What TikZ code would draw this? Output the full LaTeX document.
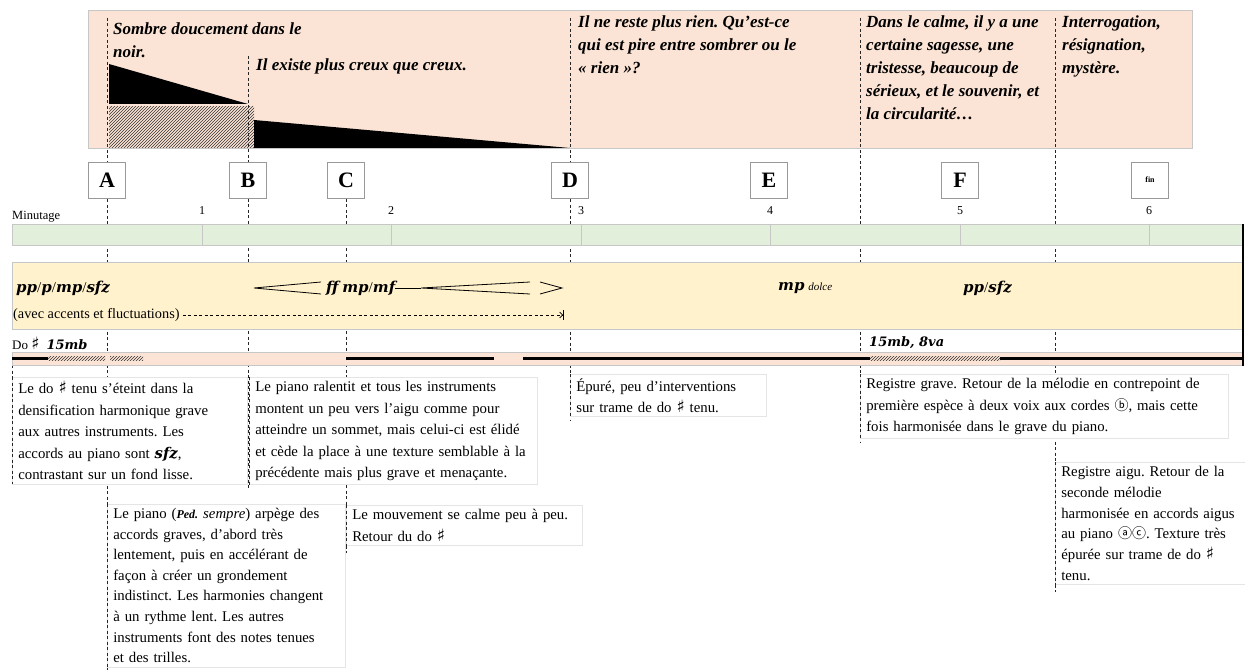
\documentclass[tikz,border=0pt]{standalone}
\usepackage{fontspec}
\setmainfont{Liberation Serif}
\newfontfamily\dynfont{DejaVu Serif}
\newfontfamily\symfont{DejaVu Sans}
\newfontfamily\circfont{Noto Sans CJK SC}
\usetikzlibrary{patterns,arrows.meta}

\definecolor{peach}{HTML}{FBE4D5}
\definecolor{mint}{HTML}{E2EFDA}
\definecolor{cream}{HTML}{FFF2CC}

\newcommand{\dyn}[1]{{\dynfont\bfseries\itshape #1}}
\newcommand{\diese}{{\symfont\fontsize{17}{14}\selectfont ♯}}
\newcommand{\circled}[1]{{\circfont\fontsize{14}{14}\selectfont #1}}

\tikzset{
  band/.style={draw=black!22, line width=0.8pt},
  vline/.style={line width=0.7pt, black!85, dash pattern=on 3pt off 2.5pt},
  mood/.style={anchor=north west, inner sep=0pt, align=left,
    font=\bfseries\itshape\fontsize{17}{23}\selectfont},
  letterbox/.style={draw=black!40, fill=white, line width=0.6pt,
    minimum width=37pt, minimum height=36pt, inner sep=0pt,
    font=\bfseries\fontsize{22}{22}\selectfont},
  note/.style={anchor=north west, fill=white, draw=black!10, line width=0.6pt,
    inner xsep=6pt, inner ysep=4pt, align=left,
    font=\fontsize{14.8}{21.5}\selectfont},
  tick/.style={font=\fontsize{12}{12}\selectfont},
  hatchbar/.style={pattern=north east lines, pattern color=black!80},
  hairpin/.style={line width=0.8pt},
}

\begin{document}
\frenchspacing
\begin{tikzpicture}[x=1pt,y=-1pt]
\useasboundingbox (0,0) rectangle (1245,671);

% ---- upper band: moods
\fill[peach] (88,10) rectangle (1192,148);
\draw[band] (88,10) rectangle (1192,148);
\fill (109,64) -- (248,104) -- (109,104) -- cycle;
\fill[hatchbar] (109,107) rectangle (254,148);
\fill (254,120) -- (570,148) -- (254,148) -- cycle;

\node[mood] (m1) at (113,23) {Sombre doucement dans le\\noir.};
\node[mood] (m2) at (256,59) {Il existe plus creux que creux.};
\node[mood] (m3) at (578,16) {Il ne reste plus rien. Qu’est-ce\\qui est pire entre sombrer ou le\\« rien »?};
\node[mood] (m4) at (866,16) {Dans le calme, il y a une\\certaine sagesse, une\\tristesse, beaucoup de\\sérieux, et le souvenir, et\\la circularité…};
\node[mood] (m5) at (1062,16) {Interrogation,\\résignation,\\mystère.};

% ---- section markers (dashed)
\draw[vline] (107,18) -- (107,671);
\draw[vline] (248,56) -- (248,490);
\draw[vline] (346,199) -- (346,553);
\draw[vline] (570,18) -- (570,421);
\draw[vline] (860,18) -- (860,443);
\draw[vline] (1055,18) -- (1055,592);
\draw[vline] (12,365) -- (12,380);

% ---- letters
\node[letterbox] (A) at (107,180) {A};
\node[letterbox] (B) at (248,180) {B};
\node[letterbox] (C) at (346,180) {C};
\node[letterbox] (D) at (570,180) {D};
\node[letterbox] (E) at (769,180) {E};
\node[letterbox] (F) at (960,180) {F};
\node[letterbox, font=\bfseries\fontsize{8}{8}\selectfont] (fin) at (1150,180) {fin};

% ---- timeline
\node[tick, anchor=south west, inner sep=0pt, font=\fontsize{12.5}{12.5}\selectfont] (minutage) at (12,222) {Minutage};
\fill[mint] (12,224) rectangle (1243,245);
\draw[band] (12,224) rectangle (1243,245);
\foreach \k/\xx in {1/202,2/391,3/581,4/770,5/960,6/1149}{
  \draw[black!22, line width=0.8pt] (\xx,224) -- (\xx,245);
  \node[tick] (t\k) at (\xx,211) {\k};
}

% ---- dynamics
\fill[cream] (12,262) rectangle (1243,329);
\draw[band] (12,262) rectangle (1243,329);
\node[anchor=west, inner sep=0pt, font=\fontsize{15}{15}\selectfont] (d1) at (16,288) {\dyn{pp}/\dyn{p}/\dyn{mp}/\dyn{sfz}};
\draw[hairpin] (321,282) -- (254,288) -- (321,294);
\node[anchor=west, inner sep=0pt, font=\fontsize{15}{15}\selectfont] (d2) at (326,288) {\dyn{ff} \dyn{mp}/\dyn{mf}};
\draw[hairpin] (d2.east) -- (421,288);
\draw[hairpin] (530,282) -- (421,288) -- (530,294);
\draw[hairpin] (540,282) -- (562,288) -- (540,294);
\node[anchor=west, inner sep=0pt, font=\fontsize{15}{15}\selectfont] (d3) at (778,288) {\dyn{mp} {\itshape\fontsize{11}{11}\selectfont dolce}};
\node[anchor=west, inner sep=0pt, font=\fontsize{15}{15}\selectfont] (d4) at (963,288) {\dyn{pp}/\dyn{sfz}};
\node[anchor=west, inner sep=0pt, font=\fontsize{14.3}{14.3}\selectfont] (avec) at (13,315) {(avec accents et fluctuations)};
\coordinate (avecEnd) at (564,315);
\draw[line width=0.7pt, dash pattern=on 3pt off 2.5pt,
  -{Straight Barb[length=3pt,width=6pt]Bar[width=10pt,line width=0.9pt]}] (avec.east) ++(3,0) -- (avecEnd);

% ---- held C sharp
\node[anchor=west, inner sep=0pt, font=\fontsize{13}{13}\selectfont] (do) at (12,343) {Do \diese\hspace{7pt}{\fontsize{13}{13}\selectfont\dyn{15mb}}};
\node[anchor=west, inner sep=0pt, font=\fontsize{13}{13}\selectfont] (oct) at (869,343) {\dyn{15mb, 8va}};
\fill[peach] (12,352) rectangle (1243,365);
\draw[band] (12,352) rectangle (1243,365);
\fill (12,356.8) rectangle (48,360.2);
\fill[hatchbar] (48,356.8) rectangle (105,360.2);
\fill[hatchbar] (110,356.8) rectangle (143,360.2);
\fill (346,356.8) rectangle (494,360.2);
\fill (523,356.8) rectangle (870,360.2);
\fill[hatchbar] (870,356.8) rectangle (1000,360.2);
\fill (1000,356.8) rectangle (1243,360.2);
\draw[line width=1.2pt] (1243,224) -- (1243,366);

% ---- descriptions
\node[note, text width=223pt] (n1) at (12,377) {Le do \diese{} tenu s’éteint dans la\\densification harmonique grave\\aux autres instruments. Les\\accords au piano sont \dyn{sfz},\\contrastant sur un fond lisse.};
\node[note, text width=276pt] (n2) at (249,377) {Le piano ralentit et tous les instruments\\montent un peu vers l’aigu comme pour\\atteindre un sommet, mais celui-ci est élidé\\et cède la place à une texture semblable à la\\précédente mais plus grave et menaçante.};
\node[note, text width=226pt, font=\fontsize{14.8}{20.6}\selectfont] (n3) at (107,504) {Le piano ({\bfseries\itshape\fontsize{12}{12}\selectfont Ped.} {\itshape sempre}) arpège des\\accords graves, d’abord très\\lentement, puis en accélérant de\\façon à créer un grondement\\indistinct. Les harmonies changent\\à un rythme lent. Les autres\\instruments font des notes tenues\\et des trilles.};
\node[note, text width=224pt] (n4) at (346,505) {Le mouvement se calme peu à peu.\\Retour du do \diese};
\node[note, text width=184pt] (n5) at (570,374) {Épuré, peu d’interventions\\sur trame de do \diese{} tenu.};
\node[note, text width=356pt] (n6) at (860,374) {Registre grave. Retour de la mélodie en contrepoint de\\première espèce à deux voix aux cordes \circled{ⓑ}, mais cette\\fois harmonisée dans le grave du piano.};
\node[note, text width=190pt, font=\fontsize{14.8}{20.8}\selectfont] (n7) at (1055,462) {Registre aigu. Retour de la\\seconde mélodie\\harmonisée en accords aigus\\au piano \circled{ⓐⓒ}. Texture très\\épurée sur trame de do \diese\\tenu.};

\foreach \n in {n1,n2,n3,n4,n5,n6,n7}{
  \draw[vline] (\n.north west) -- (\n.south west);
}
\end{tikzpicture}
\end{document}
